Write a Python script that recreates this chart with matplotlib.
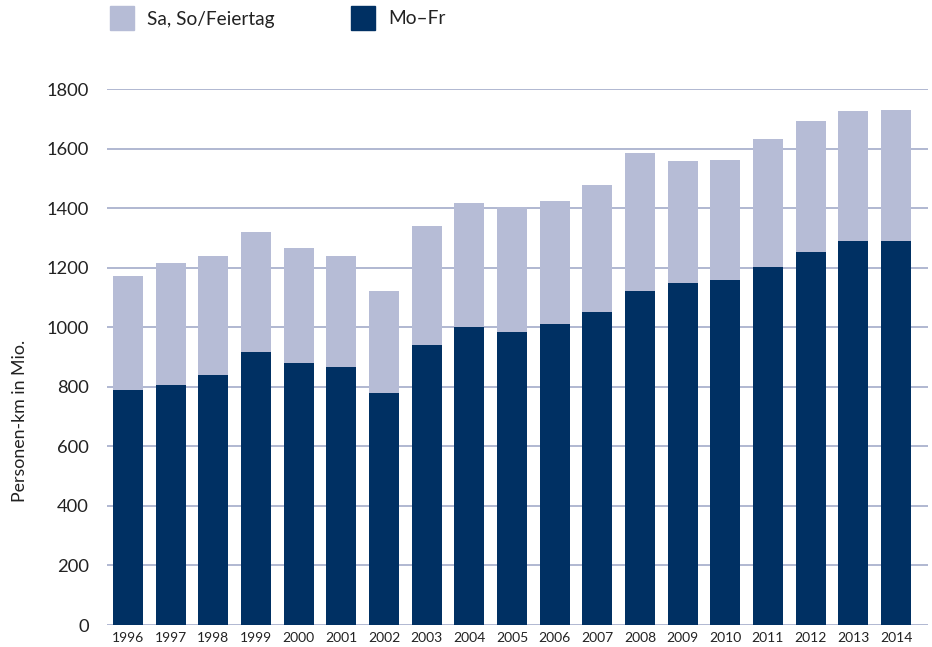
import matplotlib
matplotlib.use("Agg")
import matplotlib.pyplot as plt
from matplotlib.patches import Rectangle

years = ["1996", "1997", "1998", "1999", "2000", "2001", "2002", "2003", "2004", "2005",
         "2006", "2007", "2008", "2009", "2010", "2011", "2012", "2013", "2014"]
mo_fr = [789, 806, 839, 917, 880, 866, 779, 940, 1000, 984,
         1011, 1051, 1122, 1148, 1158, 1202, 1252, 1289, 1289]
total = [1172, 1216, 1239, 1320, 1266, 1239, 1122, 1340, 1417, 1404,
         1424, 1478, 1585, 1558, 1561, 1632, 1692, 1726, 1729]
weekend = [t - m for t, m in zip(total, mo_fr)]
yticks = [0, 200, 400, 600, 800, 1000, 1200, 1400, 1600, 1800]

LIGHT = "#b6bcd6"
DARK = "#003063"
GRID = "#a3abc9"
TXT = "#222222"

plt.rcParams['font.family'] = ['Lato', 'DejaVu Sans']

W, H = 932, 647
fig = plt.figure(figsize=(W / 100, H / 100), dpi=100)
ax = fig.add_axes([107 / W, 1 - 625 / H, (928 - 107) / W, (625 - 89) / H])

x = list(range(len(years)))
ax.bar(x, mo_fr, width=0.70, color=DARK, zorder=3)
ax.bar(x, weekend, bottom=mo_fr, width=0.70, color=LIGHT, zorder=3)

ax.set_ylim(0, 1800)
ax.set_xlim(-0.49, 18.75)
ax.set_yticks(yticks)
ax.set_yticklabels([str(v) for v in yticks], fontsize=13.2, color=TXT)
ax.set_xticks(x)
ax.set_xticklabels(years, fontsize=10, color=TXT)
ax.tick_params(axis='both', length=0)
ax.tick_params(axis='y', pad=13)
ax.tick_params(axis='x', pad=5)
ax.yaxis.grid(True, color=GRID, linewidth=1.2, zorder=0)
for s in ax.spines.values():
    s.set_visible(False)

fig.text(20 / W, 1 - 421 / H, "Personen-km in Mio.", rotation=90, fontsize=12.8,
         color=TXT, ha='center', va='center')

lax = fig.add_axes([0, 0, 1, 1], frameon=False)
lax.set_xlim(0, W)
lax.set_ylim(H, 0)
lax.axis('off')
lax.add_patch(Rectangle((110, 6), 24, 24, color=LIGHT))
lax.add_patch(Rectangle((351, 6), 24, 24, color=DARK))
lax.text(147, 19, "Sa, So/Feiertag", fontsize=13.8, color=TXT, va='center', ha='left')
lax.text(388, 19, "Mo–Fr", fontsize=13.8, color=TXT, va='center', ha='left')

fig.savefig("out.png", dpi=100)
